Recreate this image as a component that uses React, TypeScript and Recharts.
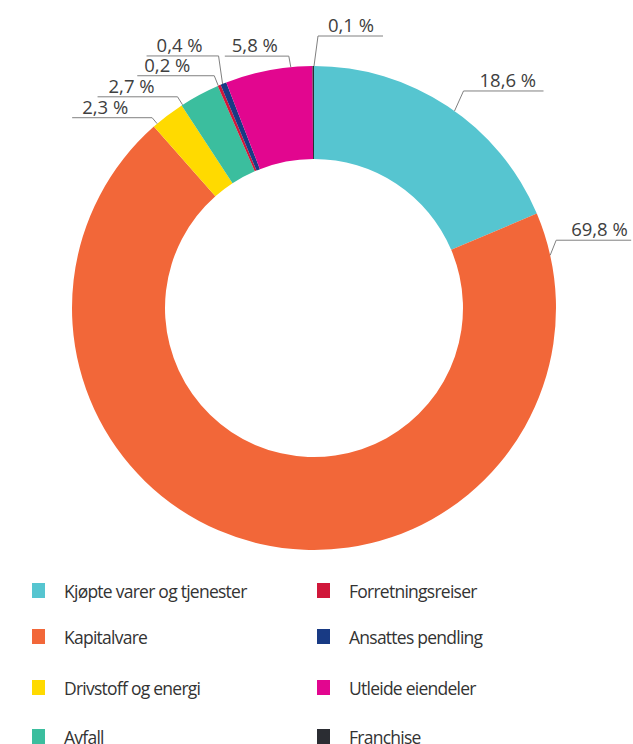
import React from 'react';
import { PieChart, Pie, Cell, Legend } from 'recharts';

const categories = [
  'Kjøpte varer og tjenester',
  'Kapitalvare',
  'Drivstoff og energi',
  'Avfall',
  'Forretningsreiser',
  'Ansattes pendling',
  'Utleide eiendeler',
  'Franchise',
];
const values = [18.6, 69.8, 2.3, 2.7, 0.2, 0.4, 5.8, 0.1];
const colors = ['#56C5D0', '#F26739', '#FFDA00', '#3BBE9E', '#D0173A', '#183A84', '#E2068F', '#2B2D33'];

// label leader layout (anchor angle on ring, elbow offset, horizontal line length, text offset)
const labelLayout = [
  { angle: 54.5, ex: 9, ey: -20, line: 80, tx: 16 },
  { angle: 12.6, ex: 6, ey: -15, line: 75, tx: 15 },
  { angle: 130.4, ex: -5, ey: -6, line: -80, tx: -70 },
  { angle: 122.9, ex: -5, ey: -8, line: -80, tx: -69 },
  { angle: 113.3, ex: -4, ey: -10, line: -77, tx: -70 },
  { angle: 112.2, ex: -4, ey: -28, line: -72, tx: -62 },
  { angle: 95.5, ex: -2, ey: -11, line: -64, tx: -57 },
  { angle: 90, ex: 4, ey: -30, line: 65, tx: 10 },
];
const legendRowY = [591, 637, 688, 737];
const legendColX = [{ sq: 32, tx: 64 }, { sq: 317, tx: 349 }];

const data = categories.map((name, i) => ({ name, value: values[i] }));
const fmt = (v: number) => `${v.toFixed(1).replace('.', ',')} %`;
const RAD = Math.PI / 180;
const FONT = '"Open Sans", sans-serif';

const renderLabel = (props: any) => {
  const { cx, cy, outerRadius, index } = props;
  const l = labelLayout[index];
  const ax = cx + outerRadius * Math.cos(l.angle * RAD);
  const ay = cy - outerRadius * Math.sin(l.angle * RAD);
  const exx = ax + l.ex;
  const eyy = ay + l.ey;
  return (
    <g key={`lbl-${index}`}>
      <polyline
        points={`${ax},${ay} ${exx},${eyy} ${exx + l.line},${eyy}`}
        fill="none"
        stroke="#808080"
        strokeWidth={1}
      />
      <text x={exx + l.tx} y={eyy - 4} fill="#404040" fontSize={18.5} fontFamily={FONT} textAnchor="start">
        {fmt(values[index])}
      </text>
    </g>
  );
};

const renderLegend = () => (
  <div style={{ position: 'relative', width: 633, height: 174 }}>
    {categories.map((c, i) => {
      const col = legendColX[i < 4 ? 0 : 1];
      const cy = legendRowY[i % 4] - 570;
      return (
        <React.Fragment key={c}>
          <div
            style={{
              position: 'absolute',
              left: col.sq,
              top: cy - 8,
              width: 13,
              height: 15,
              background: colors[i],
            }}
          />
          <div
            style={{
              position: 'absolute',
              left: col.tx,
              top: cy - 11,
              height: 22,
              lineHeight: '22px',
              fontSize: 17.5,
              letterSpacing: -0.75,
              fontFamily: FONT,
              color: '#333333',
              whiteSpace: 'nowrap',
            }}
          >
            {c}
          </div>
        </React.Fragment>
      );
    })}
  </div>
);

export default function App() {
  return (
    <div style={{ position: 'absolute', left: 0, top: 0, width: 633, height: 744, background: '#fff', overflow: 'hidden' }}>
      <PieChart width={633} height={744} margin={{ top: 0, right: 0, bottom: 0, left: 0 }}>
        <Pie
          data={data}
          dataKey="value"
          nameKey="name"
          cx={314}
          cy={308}
          outerRadius={242}
          innerRadius={149}
          startAngle={90}
          endAngle={-270}
          stroke="none"
          labelLine={false}
          label={renderLabel}
          isAnimationActive={false}
        >
          {data.map((d, i) => (
            <Cell key={d.name} fill={colors[i]} />
          ))}
        </Pie>
        <Legend
          content={renderLegend}
          wrapperStyle={{ position: 'absolute', left: 0, top: 570, width: 633, height: 174 }}
        />
      </PieChart>
    </div>
  );
}
